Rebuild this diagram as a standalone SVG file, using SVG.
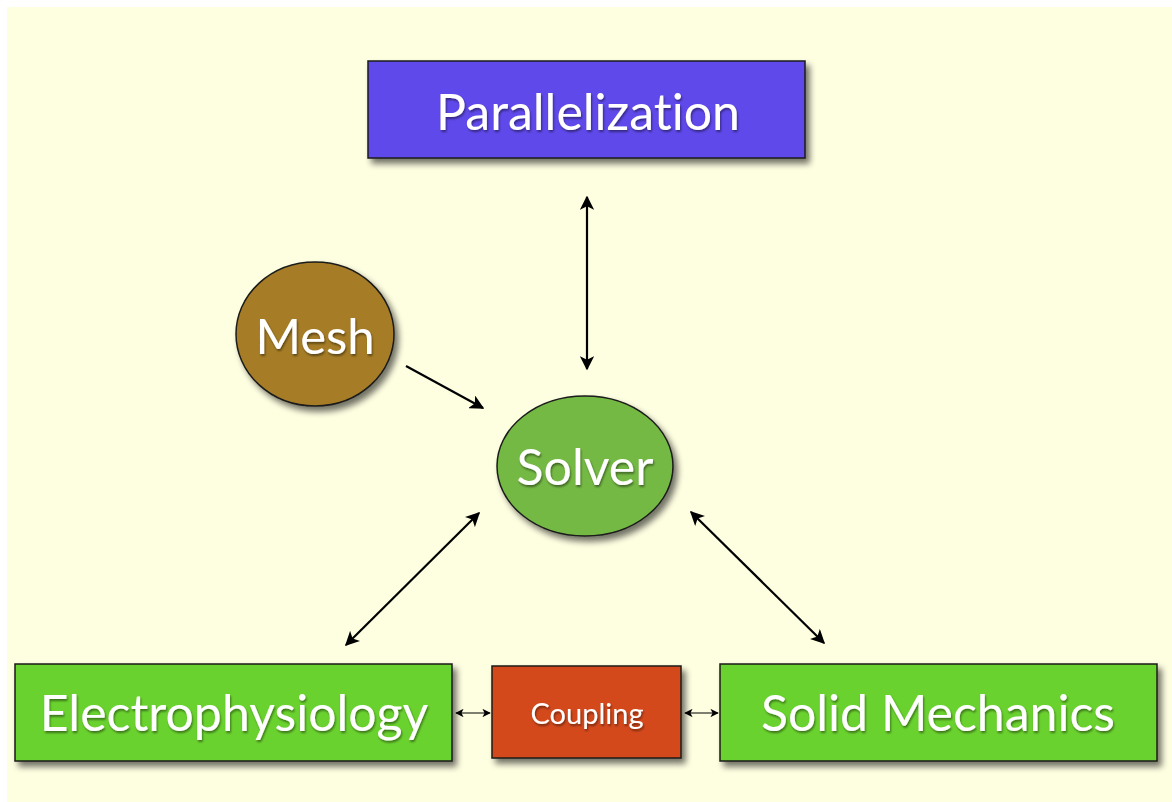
<svg xmlns="http://www.w3.org/2000/svg" width="1172" height="802" viewBox="0 0 1172 802">
  <defs>
    <style>
      .lbl { font-family: Lato, "Open Sans", sans-serif; font-variant-ligatures: none; fill: #ffffff; text-anchor: middle; dominant-baseline: central; filter: url(#txtShadow); }
      .box { stroke: #1a1a1a; stroke-width: 1.5; filter: url(#boxShadow); }
      .conn { stroke: #000000; fill: none; }
    </style>
    <filter id="boxShadow" x="-10%" y="-10%" width="125%" height="130%">
      <feGaussianBlur in="SourceAlpha" stdDeviation="3"/>
      <feOffset dx="4" dy="5" result="b"/>
      <feComponentTransfer><feFuncA type="linear" slope="0.55"/></feComponentTransfer>
      <feMerge><feMergeNode/><feMergeNode in="SourceGraphic"/></feMerge>
    </filter>
    <filter id="txtShadow" x="-5%" y="-20%" width="110%" height="150%">
      <feGaussianBlur in="SourceAlpha" stdDeviation="1.2"/>
      <feOffset dx="1" dy="2" result="b"/>
      <feComponentTransfer><feFuncA type="linear" slope="0.45"/></feComponentTransfer>
      <feMerge><feMergeNode/><feMergeNode in="SourceGraphic"/></feMerge>
    </filter>
    <marker id="head" viewBox="0 0 10 10" refX="9" refY="5" markerWidth="6.5" markerHeight="6.5" orient="auto-start-reverse" markerUnits="strokeWidth">
      <path d="M0,0 L10,5 L0,10 L2.5,5 z" fill="#000"/>
    </marker>
    <marker id="headSmall" viewBox="0 0 10 10" refX="9" refY="5" markerWidth="7" markerHeight="7" orient="auto-start-reverse" markerUnits="strokeWidth">
      <path d="M0,0 L10,5 L0,10 L2.5,5 z" fill="#000"/>
    </marker>
  </defs>

  <rect x="0" y="0" width="1172" height="802" fill="#ffffff"/>
  <rect x="7" y="7" width="1165" height="795" fill="#fefee1"/>

  <g id="connectors">
    <line class="conn" x1="587" y1="197" x2="587" y2="369" stroke-width="2.2" marker-start="url(#head)" marker-end="url(#head)"/>
    <line class="conn" x1="406" y1="366" x2="483" y2="408" stroke-width="2.2" marker-end="url(#head)"/>
    <line class="conn" x1="479" y1="513" x2="346" y2="645" stroke-width="2.2" marker-start="url(#head)" marker-end="url(#head)"/>
    <line class="conn" x1="691" y1="512" x2="824" y2="643" stroke-width="2.2" marker-start="url(#head)" marker-end="url(#head)"/>
    <line class="conn" x1="456" y1="713" x2="490" y2="713" stroke-width="1.2" marker-start="url(#headSmall)" marker-end="url(#headSmall)"/>
    <line class="conn" x1="685" y1="713" x2="718" y2="713" stroke-width="1.2" marker-start="url(#headSmall)" marker-end="url(#headSmall)"/>
  </g>

  <g id="parallelization">
    <rect class="box" x="368" y="61" width="437" height="97" fill="#5e4aea"/>
    <text class="lbl" x="588" y="111" font-size="50">Parallelization</text>
  </g>

  <g id="mesh">
    <ellipse class="box" cx="315" cy="334" rx="79" ry="72" fill="#a67d28"/>
    <text class="lbl" x="315" y="335" font-size="49">Mesh</text>
  </g>

  <g id="solver">
    <ellipse class="box" cx="585" cy="466" rx="88" ry="70" fill="#74b944"/>
    <text class="lbl" x="585" y="466" font-size="50">Solver</text>
  </g>

  <g id="electrophysiology">
    <rect class="box" x="15" y="664" width="437" height="97" fill="#6ad22d"/>
    <text class="lbl" x="234" y="712" font-size="50">Electrophysiology</text>
  </g>

  <g id="coupling">
    <rect class="box" x="492" y="666" width="189" height="92" fill="#d44a1b"/>
    <text class="lbl" x="587" y="712" font-size="29">Coupling</text>
  </g>

  <g id="solid-mechanics">
    <rect class="box" x="720" y="664" width="437" height="97" fill="#6ad22d"/>
    <text class="lbl" x="938" y="712" font-size="50">Solid Mechanics</text>
  </g>
</svg>
